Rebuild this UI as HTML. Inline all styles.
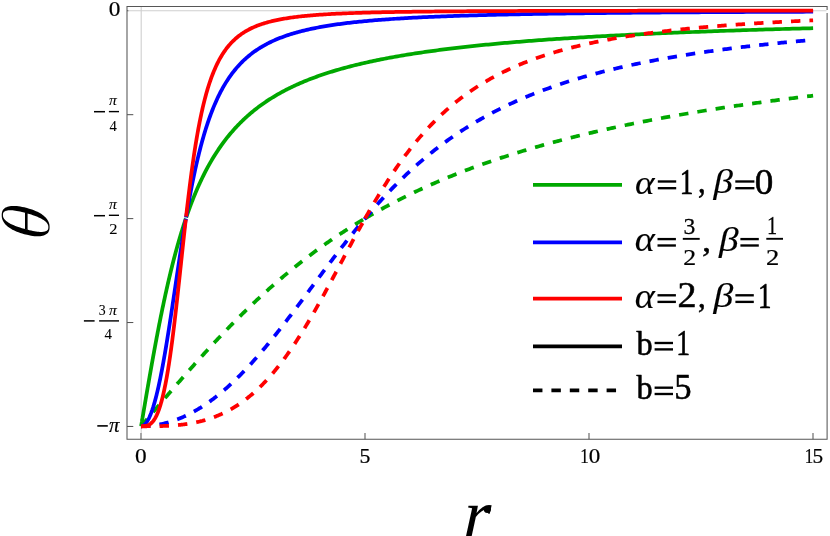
<!DOCTYPE html>
<html><head><meta charset="utf-8"><title>plot</title>
<style>html,body{margin:0;padding:0;background:#fff;}body{width:830px;height:536px;overflow:hidden;font-family:"Liberation Serif",serif;}svg{display:block;position:absolute;left:0;top:0;will-change:transform;}svg text{font-family:"Liberation Serif",serif;fill:#000;}</style>
</head><body>
<svg width="830" height="536" viewBox="0 0 830 536">
<rect width="830" height="536" fill="#fff"/>
<path d="M827.1,10.1 L827.1,6.5 L127.0,6.5 L127.0,439.3 L827.1,439.3 L827.1,13.0" fill="none" stroke="#565656" stroke-width="1.05" stroke-linejoin="miter" stroke-linecap="butt"/>
<line x1="141.00" y1="439.3" x2="141.00" y2="432.90000000000003" stroke="#565656" stroke-width="1.05"/>
<line x1="365.00" y1="439.3" x2="365.00" y2="432.90000000000003" stroke="#565656" stroke-width="1.05"/>
<line x1="589.00" y1="439.3" x2="589.00" y2="432.90000000000003" stroke="#565656" stroke-width="1.05"/>
<line x1="813.00" y1="439.3" x2="813.00" y2="432.90000000000003" stroke="#565656" stroke-width="1.05"/>
<line x1="127.0" y1="114.67" x2="133.3" y2="114.67" stroke="#565656" stroke-width="1.05"/>
<line x1="127.0" y1="218.60" x2="133.3" y2="218.60" stroke="#565656" stroke-width="1.05"/>
<line x1="127.0" y1="322.52" x2="133.3" y2="322.52" stroke="#565656" stroke-width="1.05"/>
<line x1="127.0" y1="426.45" x2="133.3" y2="426.45" stroke="#565656" stroke-width="1.05"/>
<line x1="127.0" y1="10.700000000000001" x2="128.6" y2="10.700000000000001" stroke="#565656" stroke-width="1.05"/>
<line x1="141.2" y1="7.1" x2="141.2" y2="432.90000000000003" stroke="#cfcfcf" stroke-width="1.1"/>
<line x1="128.6" y1="10.700000000000001" x2="826.5" y2="10.700000000000001" stroke="#cfcfcf" stroke-width="1.1"/>
<path d="M141.10,426.25 L141.11,426.19 L141.13,426.07 L141.16,425.92 L141.19,425.75 L141.22,425.55 L141.26,425.32 L141.30,425.08 L141.34,424.82 L141.39,424.55 L141.44,424.26 L141.49,423.95 L141.54,423.63 L141.60,423.30 L141.66,422.95 L141.72,422.59 L141.78,422.22 L141.85,421.84 L141.91,421.44 L141.98,421.03 L142.05,420.62 L142.13,420.19 L142.20,419.75 L142.28,419.30 L142.35,418.85 L142.43,418.38 L142.51,417.90 L142.60,417.42 L142.68,416.92 L142.76,416.42 L142.85,415.91 L142.94,415.39 L143.03,414.86 L143.12,414.32 L143.21,413.77 L143.31,413.22 L143.40,412.66 L143.50,412.09 L143.60,411.51 L143.70,410.93 L143.80,410.34 L143.90,409.74 L144.00,409.13 L144.11,408.52 L144.21,407.90 L144.32,407.27 L144.43,406.64 L144.54,406.00 L144.65,405.35 L144.76,404.70 L144.87,404.04 L144.98,403.37 L145.10,402.70 L145.21,402.02 L145.33,401.33 L145.45,400.64 L145.57,399.95 L145.69,399.24 L145.81,398.53 L145.93,397.82 L146.05,397.10 L146.18,396.37 L146.30,395.64 L146.43,394.91 L146.56,394.16 L146.69,393.42 L146.82,392.66 L146.95,391.91 L147.08,391.14 L147.21,390.38 L147.34,389.60 L147.48,388.82 L147.61,388.04 L147.75,387.25 L147.89,386.46 L148.02,385.67 L148.16,384.86 L148.30,384.06 L148.44,383.25 L148.59,382.43 L148.73,381.61 L148.87,380.79 L149.02,379.96 L149.16,379.13 L149.31,378.30 L149.45,377.46 L149.60,376.61 L149.75,375.77 L149.90,374.91 L150.05,374.06 L150.20,373.20 L150.35,372.34 L150.51,371.47 L150.66,370.60 L150.82,369.73 L150.97,368.85 L151.13,367.97 L151.29,367.09 L151.44,366.20 L151.60,365.31 L151.76,364.42 L151.92,363.53 L152.08,362.63 L152.24,361.73 L152.41,360.82 L152.57,359.92 L152.73,359.01 L152.90,358.09 L153.07,357.18 L153.23,356.26 L153.40,355.34 L153.57,354.42 L153.74,353.49 L153.91,352.57 L154.08,351.64 L154.25,350.70 L154.42,349.77 L154.59,348.83 L154.77,347.90 L154.94,346.96 L155.11,346.02 L155.29,345.07 L155.47,344.13 L155.64,343.18 L155.82,342.23 L156.00,341.28 L156.18,340.33 L156.36,339.38 L156.54,338.42 L156.72,337.47 L156.90,336.51 L157.09,335.55 L157.27,334.59 L157.45,333.63 L157.64,332.67 L157.82,331.70 L158.01,330.74 L158.20,329.78 L158.38,328.81 L158.57,327.84 L158.76,326.88 L158.95,325.91 L159.14,324.94 L159.33,323.97 L159.52,323.00 L159.71,322.03 L159.91,321.06 L160.10,320.09 L160.30,319.12 L160.49,318.15 L160.69,317.18 L160.88,316.21 L161.08,315.24 L161.28,314.26 L161.47,313.29 L161.67,312.32 L161.87,311.35 L162.07,310.38 L162.27,309.41 L162.47,308.44 L162.68,307.47 L162.88,306.50 L163.08,305.53 L163.29,304.56 L163.49,303.59 L163.70,302.62 L163.90,301.66 L164.11,300.69 L164.32,299.73 L164.52,298.76 L164.73,297.80 L164.94,296.83 L165.15,295.87 L165.36,294.91 L165.57,293.95 L165.78,292.99 L165.99,292.03 L166.21,291.07 L166.42,290.12 L166.63,289.16 L166.85,288.21 L167.06,287.26 L167.28,286.31 L167.49,285.36 L167.71,284.41 L167.93,283.46 L168.14,282.52 L168.36,281.58 L168.58,280.63 L168.80,279.69 L169.02,278.75 L169.24,277.82 L169.46,276.88 L169.69,275.95 L169.91,275.02 L170.13,274.09 L170.35,273.16 L170.58,272.23 L170.80,271.31 L171.03,270.39 L171.25,269.47 L171.48,268.55 L171.71,267.63 L171.94,266.72 L172.16,265.80 L172.39,264.89 L172.62,263.99 L172.85,263.08 L173.08,262.18 L173.31,261.28 L173.54,260.38 L173.78,259.48 L174.01,258.59 L174.24,257.69 L174.48,256.80 L174.71,255.92 L174.94,255.03 L175.18,254.15 L175.42,253.27 L175.65,252.39 L175.89,251.51 L176.13,250.64 L176.36,249.77 L176.60,248.90 L176.84,248.04 L177.08,247.18 L177.32,246.32 L177.56,245.46 L177.80,244.60 L178.05,243.75 L178.29,242.90 L178.53,242.05 L178.77,241.21 L179.02,240.37 L179.26,239.53 L179.51,238.69 L179.75,237.86 L180.00,237.03 L180.24,236.20 L180.49,235.38 L180.74,234.55 L180.99,233.74 L181.24,232.92 L181.48,232.10 L181.73,231.29 L181.98,230.49 L182.23,229.68 L182.49,228.88 L182.74,228.08 L182.99,227.28 L183.24,226.49 L183.50,225.70 L183.75,224.91 L184.00,224.12 L184.26,223.34 L184.51,222.56 L184.77,221.79 L185.02,221.01 L185.28,220.24 L185.54,219.47 L185.80,218.71" stroke="#00a800" stroke-width="3.75" fill="none" stroke-linejoin="round"/>
<path d="M186.31,217.20 L186.31,217.19 L186.31,217.18 L186.32,217.16 L186.33,217.12 L186.35,217.08 L186.37,217.02 L186.39,216.95 L186.42,216.86 L186.46,216.76 L186.50,216.65 L186.54,216.52 L186.59,216.38 L186.64,216.22 L186.70,216.05 L186.77,215.87 L186.84,215.66 L186.91,215.45 L186.99,215.21 L187.08,214.97 L187.17,214.70 L187.27,214.42 L187.37,214.13 L187.48,213.82 L187.59,213.49 L187.72,213.15 L187.84,212.79 L187.97,212.41 L188.11,212.02 L188.26,211.62 L188.41,211.19 L188.57,210.75 L188.73,210.30 L188.90,209.83 L189.07,209.35 L189.26,208.85 L189.45,208.33 L189.64,207.80 L189.84,207.26 L190.05,206.69 L190.26,206.12 L190.48,205.53 L190.71,204.92 L190.95,204.30 L191.19,203.67 L191.43,203.02 L191.69,202.36 L191.95,201.69 L192.22,201.00 L192.49,200.30 L192.77,199.58 L193.06,198.86 L193.35,198.12 L193.65,197.37 L193.96,196.60 L194.28,195.83 L194.60,195.04 L194.93,194.24 L195.27,193.43 L195.61,192.61 L195.96,191.78 L196.32,190.94 L196.68,190.09 L197.05,189.23 L197.43,188.36 L197.82,187.48 L198.21,186.59 L198.61,185.69 L199.02,184.78 L199.43,183.87 L199.85,182.95 L200.28,182.02 L200.72,181.09 L201.16,180.15 L201.62,179.20 L202.08,178.24 L202.54,177.28 L203.01,176.32 L203.50,175.34 L203.98,174.37 L204.48,173.39 L204.98,172.40 L205.49,171.41 L206.01,170.42 L206.54,169.42 L207.07,168.42 L207.61,167.42 L208.16,166.41 L208.72,165.40 L209.28,164.39 L209.86,163.38 L210.43,162.36 L211.02,161.35 L211.62,160.33 L212.22,159.32 L212.83,158.30 L213.45,157.28 L214.07,156.26 L214.71,155.24 L215.35,154.22 L216.00,153.21 L216.65,152.19 L217.32,151.18 L217.99,150.16 L218.67,149.15 L219.36,148.14 L220.06,147.13 L220.76,146.12 L221.47,145.12 L222.20,144.12 L222.92,143.12 L223.66,142.12 L224.40,141.13 L225.16,140.14 L225.92,139.15 L226.69,138.17 L227.46,137.19 L228.25,136.21 L229.04,135.24 L229.84,134.28 L230.65,133.31 L231.47,132.35 L232.29,131.40 L233.12,130.45 L233.97,129.50 L234.81,128.56 L235.67,127.63 L236.54,126.70 L237.41,125.77 L238.30,124.85 L239.19,123.94 L240.08,123.03 L240.99,122.12 L241.91,121.22 L242.83,120.33 L243.76,119.44 L244.70,118.56 L245.65,117.68 L246.61,116.81 L247.58,115.95 L248.55,115.09 L249.53,114.24 L250.52,113.39 L251.52,112.55 L252.53,111.72 L253.54,110.89 L254.57,110.06 L255.60,109.25 L256.64,108.44 L257.69,107.63 L258.75,106.84 L259.82,106.04 L260.89,105.26 L261.98,104.48 L263.07,103.71 L264.17,102.94 L265.28,102.18 L266.40,101.42 L267.52,100.68 L268.66,99.93 L269.80,99.20 L270.96,98.47 L272.12,97.74 L273.29,97.03 L274.46,96.32 L275.65,95.61 L276.85,94.91 L278.05,94.22 L279.26,93.53 L280.49,92.85 L281.72,92.17 L282.95,91.51 L284.20,90.84 L285.46,90.18 L286.72,89.53 L288.00,88.89 L289.28,88.25 L290.57,87.61 L291.87,86.99 L293.18,86.36 L294.50,85.75 L295.83,85.14 L297.16,84.53 L298.51,83.93 L299.86,83.34 L301.22,82.75 L302.59,82.16 L303.97,81.59 L305.36,81.01 L306.76,80.45 L308.17,79.88 L309.58,79.33 L311.01,78.78 L312.44,78.23 L313.88,77.69 L315.33,77.15 L316.79,76.62 L318.26,76.10 L319.74,75.58 L321.23,75.06 L322.72,74.55 L324.23,74.04 L325.74,73.54 L327.26,73.05 L328.80,72.56 L330.34,72.07 L331.89,71.59 L333.45,71.11 L335.02,70.64 L336.59,70.17 L338.18,69.70 L339.77,69.24 L341.38,68.79 L342.99,68.34 L344.62,67.89 L346.25,67.45 L347.89,67.01 L349.54,66.58 L351.20,66.15 L352.87,65.72 L354.55,65.30 L356.23,64.88 L357.93,64.47 L359.63,64.06 L361.35,63.66 L363.07,63.25 L364.81,62.86 L366.55,62.46 L368.30,62.07 L370.06,61.69 L371.83,61.30 L373.61,60.92 L375.40,60.55 L377.19,60.18 L379.00,59.81 L380.82,59.44 L382.64,59.08 L384.48,58.72 L386.32,58.37 L388.18,58.02 L390.04,57.67 L391.91,57.33 L393.79,56.99 L395.68,56.65 L397.58,56.31 L399.49,55.98 L401.41,55.65 L403.34,55.33 L405.28,55.01 L407.23,54.69 L409.18,54.37 L411.15,54.06 L413.12,53.75 L415.11,53.44 L417.10,53.13 L419.11,52.83 L421.12,52.53 L423.14,52.24 L425.17,51.94 L427.22,51.65 L429.27,51.37 L431.33,51.08 L433.40,50.80 L435.48,50.52 L437.57,50.24 L439.67,49.97 L441.77,49.69 L443.89,49.42 L446.02,49.16 L448.15,48.89 L450.30,48.63 L452.46,48.37 L454.62,48.11 L456.80,47.86 L458.98,47.60 L461.18,47.35 L463.38,47.10 L465.59,46.86 L467.82,46.61 L470.05,46.37 L472.29,46.13 L474.54,45.89 L476.80,45.66 L479.08,45.43 L481.36,45.20 L483.65,44.97 L485.95,44.74 L488.26,44.51 L490.58,44.29 L492.90,44.07 L495.24,43.85 L497.59,43.63 L499.95,43.42 L502.32,43.21 L504.70,42.99 L507.08,42.78 L509.48,42.58 L511.89,42.37 L514.30,42.17 L516.73,41.96 L519.17,41.76 L521.61,41.57 L524.07,41.37 L526.53,41.17 L529.01,40.98 L531.49,40.79 L533.99,40.60 L536.49,40.41 L539.01,40.22 L541.53,40.04 L544.06,39.85 L546.61,39.67 L549.16,39.49 L551.73,39.31 L554.30,39.13 L556.88,38.96 L559.48,38.78 L562.08,38.61 L564.69,38.44 L567.31,38.27 L569.95,38.10 L572.59,37.93 L575.24,37.76 L577.90,37.60 L580.58,37.43 L583.26,37.27 L585.95,37.11 L588.65,36.95 L591.36,36.79 L594.09,36.64 L596.82,36.48 L599.56,36.33 L602.31,36.18 L605.07,36.02 L607.84,35.87 L610.62,35.72 L613.42,35.58 L616.22,35.43 L619.03,35.28 L621.85,35.14 L624.68,35.00 L627.52,34.86 L630.38,34.71 L633.24,34.57 L636.11,34.44 L638.99,34.30 L641.88,34.16 L644.78,34.03 L647.70,33.89 L650.62,33.76 L653.55,33.63 L656.49,33.50 L659.44,33.37 L662.41,33.24 L665.38,33.11 L668.36,32.98 L671.35,32.86 L674.36,32.73 L677.37,32.61 L680.39,32.48 L683.42,32.36 L686.47,32.24 L689.52,32.12 L692.58,32.00 L695.66,31.88 L698.74,31.77 L701.83,31.65 L704.94,31.53 L708.05,31.42 L711.18,31.30 L714.31,31.19 L717.45,31.08 L720.61,30.97 L723.77,30.86 L726.95,30.75 L730.13,30.64 L733.33,30.53 L736.54,30.42 L739.75,30.32 L742.98,30.21 L746.21,30.11 L749.46,30.00 L752.72,29.90 L755.99,29.80 L759.26,29.70 L762.55,29.60 L765.85,29.49 L769.16,29.40 L772.47,29.30 L775.80,29.20 L779.14,29.10 L782.49,29.00 L785.85,28.91 L789.22,28.81 L792.60,28.72 L795.99,28.63 L799.39,28.53 L802.80,28.44 L806.23,28.35 L809.66,28.26 L813.10,28.17" stroke="#00a800" stroke-width="3.75" fill="none" stroke-linejoin="round"/>
<path d="M141.10,426.25 L141.18,426.16 L141.30,426.01 L141.46,425.83 L141.63,425.62 L141.83,425.39 L142.04,425.14 L142.26,424.88 L142.50,424.59 L142.75,424.30 L143.02,423.99 L143.29,423.66 L143.57,423.33 L143.87,422.98 L144.17,422.63 L144.48,422.26 L144.80,421.88 L145.13,421.49 L145.46,421.10 L145.80,420.69 L146.15,420.28 L146.51,419.86 L146.88,419.43 L147.25,418.99 L147.62,418.54 L148.01,418.09 L148.40,417.63 L148.79,417.16 L149.20,416.69 L149.60,416.21 L150.02,415.72 L150.44,415.23 L150.86,414.73 L151.29,414.22 L151.73,413.71 L152.17,413.19 L152.61,412.66 L153.06,412.13 L153.52,411.60 L153.98,411.05 L154.44,410.51 L154.91,409.96 L155.38,409.40 L155.86,408.84 L156.34,408.27 L156.83,407.69 L157.32,407.12 L157.82,406.53 L158.32,405.95 L158.82,405.35 L159.33,404.76 L159.84,404.16 L160.36,403.55 L160.88,402.94 L161.41,402.32 L161.93,401.71 L162.47,401.08 L163.00,400.45 L163.54,399.82 L164.09,399.19 L164.63,398.55 L165.18,397.90 L165.74,397.26 L166.30,396.61 L166.86,395.95 L167.42,395.29 L167.99,394.63 L168.57,393.96 L169.14,393.29 L169.72,392.62 L170.30,391.94 L170.89,391.26 L171.48,390.58 L172.07,389.89 L172.66,389.20 L173.26,388.51 L173.87,387.81 L174.47,387.11 L175.08,386.41 L175.69,385.70 L176.30,384.99 L176.92,384.28 L177.54,383.57 L178.17,382.85 L178.79,382.13 L179.42,381.41 L180.06,380.68 L180.69,379.95 L181.33,379.22 L181.97,378.49 L182.62,377.75 L183.26,377.01 L183.91,376.27 L184.57,375.53 L185.22,374.78 L185.88,374.03 L186.54,373.28 L187.21,372.53 L187.87,371.77 L188.54,371.02 L189.21,370.26 L189.89,369.49 L190.57,368.73 L191.25,367.96 L191.93,367.20 L192.62,366.43 L193.30,365.66 L194.00,364.88 L194.69,364.11 L195.38,363.33 L196.08,362.55 L196.78,361.77 L197.49,360.99 L198.19,360.20 L198.90,359.42 L199.61,358.63 L200.33,357.84 L201.04,357.05 L201.76,356.26 L202.48,355.47 L203.21,354.67 L203.93,353.88 L204.66,353.08 L205.39,352.28 L206.12,351.48 L206.86,350.68 L207.60,349.88 L208.34,349.08 L209.08,348.27 L209.82,347.47 L210.57,346.66 L211.32,345.86 L212.07,345.05 L212.83,344.24 L213.58,343.43 L214.34,342.62 L215.10,341.81 L215.86,341.00 L216.63,340.19 L217.40,339.37 L218.17,338.56 L218.94,337.74 L219.71,336.93 L220.49,336.11 L221.27,335.30 L222.05,334.48 L222.83,333.66 L223.61,332.85 L224.40,332.03 L225.19,331.21 L225.98,330.39 L226.77,329.57 L227.57,328.76 L228.37,327.94 L229.17,327.12 L229.97,326.30 L230.77,325.48 L231.58,324.66 L232.38,323.84 L233.19,323.02 L234.01,322.20 L234.82,321.38 L235.64,320.56 L236.45,319.74 L237.27,318.92 L238.10,318.11 L238.92,317.29 L239.75,316.47 L240.57,315.65 L241.40,314.83 L242.24,314.01 L243.07,313.20 L243.91,312.38 L244.74,311.56 L245.58,310.75 L246.43,309.93 L247.27,309.12 L248.11,308.30 L248.96,307.49 L249.81,306.68 L250.66,305.86 L251.52,305.05 L252.37,304.24 L253.23,303.43 L254.09,302.62 L254.95,301.81 L255.81,301.00 L256.67,300.19 L257.54,299.39 L258.41,298.58 L259.28,297.78 L260.15,296.97 L261.02,296.17 L261.90,295.37 L262.77,294.56 L263.65,293.76 L264.53,292.96 L265.42,292.16 L266.30,291.37 L267.19,290.57 L268.08,289.78 L268.97,288.98 L269.86,288.19 L270.75,287.40 L271.65,286.61 L272.54,285.82 L273.44,285.03 L274.34,284.24 L275.24,283.46 L276.15,282.67 L277.05,281.89 L277.96,281.11 L278.87,280.33 L279.78,279.55 L280.69,278.77 L281.61,277.99 L282.52,277.22 L283.44,276.44 L284.36,275.67 L285.28,274.90 L286.20,274.13 L287.13,273.36 L288.05,272.60 L288.98,271.83 L289.91,271.07 L290.84,270.31 L291.77,269.55 L292.71,268.79 L293.64,268.03 L294.58,267.28 L295.52,266.52 L296.46,265.77 L297.40,265.02 L298.34,264.27 L299.29,263.53 L300.24,262.78 L301.19,262.04 L302.14,261.30 L303.09,260.56 L304.04,259.82 L305.00,259.08 L305.95,258.35 L306.91,257.61 L307.87,256.88 L308.84,256.15 L309.80,255.42 L310.76,254.70 L311.73,253.98 L312.70,253.25 L313.67,252.53 L314.64,251.81 L315.61,251.10 L316.58,250.38 L317.56,249.67 L318.54,248.96 L319.52,248.25 L320.50,247.54 L321.48,246.84 L322.46,246.13 L323.45,245.43 L324.43,244.73 L325.42,244.04 L326.41,243.34 L327.40,242.65 L328.39,241.96 L329.39,241.27 L330.38,240.58 L331.38,239.89 L332.38,239.21 L333.38,238.53 L334.38,237.85 L335.38,237.17 L336.39,236.49 L337.39,235.82 L338.40,235.15 L339.41,234.48 L340.42,233.81 L341.43,233.15 L342.45,232.48 L343.46,231.82 L344.48,231.16 L345.49,230.50 L346.51,229.85 L347.53,229.19 L348.56,228.54 L349.58,227.89 L350.60,227.25 L351.63,226.60 L352.66,225.96 L353.69,225.32 L354.72,224.68 L355.75,224.04 L356.78,223.41 L357.82,222.77 L358.85,222.14 L359.89,221.51 L360.93,220.89 L361.97,220.26 L363.01,219.64 L364.06,219.02 L365.10,218.40" stroke="#00a800" stroke-width="3.75" fill="none" stroke-dasharray="9.4 9.07" stroke-linejoin="round"/>
<path d="M365.10,218.40 L366.59,217.52 L368.09,216.65 L369.58,215.78 L371.07,214.92 L372.57,214.06 L374.06,213.21 L375.55,212.37 L377.05,211.53 L378.54,210.69 L380.03,209.87 L381.53,209.04 L383.02,208.23 L384.51,207.41 L386.01,206.61 L387.50,205.81 L388.99,205.01 L390.49,204.22 L391.98,203.44 L393.47,202.66 L394.97,201.88 L396.46,201.11 L397.95,200.35 L399.45,199.59 L400.94,198.83 L402.43,198.08 L403.93,197.34 L405.42,196.60 L406.91,195.86 L408.41,195.13 L409.90,194.41 L411.39,193.69 L412.89,192.97 L414.38,192.26 L415.87,191.55 L417.37,190.85 L418.86,190.15 L420.35,189.46 L421.85,188.77 L423.34,188.09 L424.83,187.41 L426.33,186.73 L427.82,186.06 L429.31,185.40 L430.81,184.73 L432.30,184.08 L433.79,183.42 L435.29,182.77 L436.78,182.13 L438.27,181.49 L439.77,180.85 L441.26,180.21 L442.75,179.59 L444.25,178.96 L445.74,178.34 L447.23,177.72 L448.73,177.11 L450.22,176.50 L451.71,175.89 L453.21,175.29 L454.70,174.69 L456.19,174.10 L457.69,173.51 L459.18,172.92 L460.67,172.34 L462.17,171.76 L463.66,171.18 L465.15,170.61 L466.65,170.04 L468.14,169.48 L469.63,168.92 L471.13,168.36 L472.62,167.80 L474.11,167.25 L475.61,166.71 L477.10,166.16 L478.59,165.62 L480.09,165.08 L481.58,164.55 L483.07,164.02 L484.57,163.49 L486.06,162.96 L487.55,162.44 L489.05,161.92 L490.54,161.41 L492.03,160.89 L493.53,160.39 L495.02,159.88 L496.51,159.38 L498.01,158.88 L499.50,158.38 L500.99,157.89 L502.49,157.39 L503.98,156.91 L505.47,156.42 L506.97,155.94 L508.46,155.46 L509.95,154.98 L511.45,154.51 L512.94,154.04 L514.43,153.57 L515.93,153.10 L517.42,152.64 L518.91,152.18 L520.41,151.72 L521.90,151.27 L523.39,150.81 L524.89,150.37 L526.38,149.92 L527.87,149.47 L529.37,149.03 L530.86,148.59 L532.35,148.16 L533.85,147.72 L535.34,147.29 L536.83,146.86 L538.33,146.43 L539.82,146.01 L541.31,145.59 L542.81,145.17 L544.30,144.75 L545.79,144.34 L547.29,143.92 L548.78,143.51 L550.27,143.10 L551.77,142.70 L553.26,142.30 L554.75,141.89 L556.25,141.50 L557.74,141.10 L559.23,140.70 L560.73,140.31 L562.22,139.92 L563.71,139.53 L565.21,139.15 L566.70,138.76 L568.19,138.38 L569.69,138.00 L571.18,137.62 L572.67,137.25 L574.17,136.88 L575.66,136.50 L577.15,136.14 L578.65,135.77 L580.14,135.40 L581.63,135.04 L583.13,134.68 L584.62,134.32 L586.11,133.96 L587.61,133.60 L589.10,133.25 L590.59,132.90 L592.09,132.55 L593.58,132.20 L595.07,131.85 L596.57,131.51 L598.06,131.17 L599.55,130.83 L601.05,130.49 L602.54,130.15 L604.03,129.81 L605.53,129.48 L607.02,129.15 L608.51,128.82 L610.01,128.49 L611.50,128.16 L612.99,127.84 L614.49,127.51 L615.98,127.19 L617.47,126.87 L618.97,126.55 L620.46,126.24 L621.95,125.92 L623.45,125.61 L624.94,125.29 L626.43,124.98 L627.93,124.67 L629.42,124.37 L630.91,124.06 L632.41,123.76 L633.90,123.45 L635.39,123.15 L636.89,122.85 L638.38,122.55 L639.87,122.26 L641.37,121.96 L642.86,121.67 L644.35,121.38 L645.85,121.08 L647.34,120.80 L648.83,120.51 L650.33,120.22 L651.82,119.93 L653.31,119.65 L654.81,119.37 L656.30,119.09 L657.79,118.81 L659.29,118.53 L660.78,118.25 L662.27,117.98 L663.77,117.70 L665.26,117.43 L666.75,117.16 L668.25,116.89 L669.74,116.62 L671.23,116.35 L672.73,116.08 L674.22,115.82 L675.71,115.55 L677.21,115.29 L678.70,115.03 L680.19,114.77 L681.69,114.51 L683.18,114.25 L684.67,113.99 L686.17,113.74 L687.66,113.48 L689.15,113.23 L690.65,112.98 L692.14,112.73 L693.63,112.48 L695.13,112.23 L696.62,111.98 L698.11,111.74 L699.61,111.49 L701.10,111.25 L702.59,111.01 L704.09,110.76 L705.58,110.52 L707.07,110.28 L708.57,110.05 L710.06,109.81 L711.55,109.57 L713.05,109.34 L714.54,109.10 L716.03,108.87 L717.53,108.64 L719.02,108.41 L720.51,108.18 L722.01,107.95 L723.50,107.72 L724.99,107.49 L726.49,107.27 L727.98,107.04 L729.47,106.82 L730.97,106.60 L732.46,106.37 L733.95,106.15 L735.45,105.93 L736.94,105.71 L738.43,105.50 L739.93,105.28 L741.42,105.06 L742.91,104.85 L744.41,104.63 L745.90,104.42 L747.39,104.21 L748.89,104.00 L750.38,103.79 L751.87,103.58 L753.37,103.37 L754.86,103.16 L756.35,102.95 L757.85,102.75 L759.34,102.54 L760.83,102.34 L762.33,102.13 L763.82,101.93 L765.31,101.73 L766.81,101.53 L768.30,101.33 L769.79,101.13 L771.29,100.93 L772.78,100.73 L774.27,100.54 L775.77,100.34 L777.26,100.15 L778.75,99.95 L780.25,99.76 L781.74,99.57 L783.23,99.37 L784.73,99.18 L786.22,98.99 L787.71,98.80 L789.21,98.62 L790.70,98.43 L792.19,98.24 L793.69,98.05 L795.18,97.87 L796.67,97.68 L798.17,97.50 L799.66,97.32 L801.15,97.13 L802.65,96.95 L804.14,96.77 L805.63,96.59 L807.13,96.41 L808.62,96.23 L810.11,96.05 L811.61,95.88 L813.10,95.70" stroke="#00a800" stroke-width="3.75" fill="none" stroke-dasharray="9.4 9.07" stroke-linejoin="round"/>
<path d="M141.10,426.25 L141.11,426.25 L141.13,426.25 L141.16,426.25 L141.19,426.25 L141.22,426.25 L141.26,426.25 L141.30,426.24 L141.34,426.24 L141.39,426.24 L141.44,426.23 L141.49,426.23 L141.54,426.22 L141.60,426.22 L141.66,426.21 L141.72,426.20 L141.78,426.19 L141.85,426.18 L141.92,426.16 L141.98,426.15 L142.05,426.13 L142.13,426.11 L142.20,426.09 L142.28,426.07 L142.35,426.04 L142.43,426.02 L142.51,425.99 L142.60,425.95 L142.68,425.92 L142.77,425.88 L142.85,425.84 L142.94,425.80 L143.03,425.76 L143.12,425.71 L143.22,425.66 L143.31,425.61 L143.41,425.55 L143.50,425.49 L143.60,425.43 L143.70,425.36 L143.80,425.29 L143.90,425.21 L144.00,425.14 L144.11,425.06 L144.21,424.97 L144.32,424.88 L144.43,424.79 L144.54,424.69 L144.65,424.59 L144.76,424.48 L144.87,424.37 L144.99,424.26 L145.10,424.14 L145.22,424.01 L145.33,423.89 L145.45,423.75 L145.57,423.61 L145.69,423.47 L145.81,423.32 L145.94,423.17 L146.06,423.01 L146.18,422.84 L146.31,422.67 L146.44,422.49 L146.56,422.31 L146.69,422.13 L146.82,421.93 L146.95,421.73 L147.08,421.53 L147.22,421.32 L147.35,421.10 L147.48,420.88 L147.62,420.65 L147.76,420.41 L147.89,420.17 L148.03,419.92 L148.17,419.66 L148.31,419.40 L148.45,419.12 L148.59,418.85 L148.74,418.56 L148.88,418.27 L149.02,417.97 L149.17,417.67 L149.32,417.35 L149.46,417.03 L149.61,416.70 L149.76,416.36 L149.91,416.02 L150.06,415.67 L150.21,415.31 L150.36,414.94 L150.52,414.56 L150.67,414.18 L150.83,413.79 L150.98,413.38 L151.14,412.97 L151.30,412.56 L151.45,412.13 L151.61,411.69 L151.77,411.25 L151.93,410.79 L152.09,410.33 L152.26,409.86 L152.42,409.38 L152.58,408.89 L152.75,408.39 L152.91,407.88 L153.08,407.36 L153.25,406.84 L153.41,406.30 L153.58,405.75 L153.75,405.19 L153.92,404.63 L154.09,404.05 L154.26,403.47 L154.43,402.87 L154.61,402.26 L154.78,401.65 L154.95,401.02 L155.13,400.38 L155.30,399.73 L155.48,399.07 L155.66,398.41 L155.84,397.73 L156.02,397.04 L156.19,396.34 L156.37,395.62 L156.56,394.90 L156.74,394.17 L156.92,393.42 L157.10,392.67 L157.29,391.90 L157.47,391.12 L157.65,390.34 L157.84,389.54 L158.03,388.73 L158.21,387.90 L158.40,387.07 L158.59,386.22 L158.78,385.37 L158.97,384.50 L159.16,383.62 L159.35,382.73 L159.54,381.83 L159.73,380.91 L159.93,379.99 L160.12,379.05 L160.32,378.10 L160.51,377.14 L160.71,376.17 L160.90,375.19 L161.10,374.19 L161.30,373.18 L161.50,372.16 L161.69,371.13 L161.89,370.09 L162.09,369.04 L162.30,367.97 L162.50,366.90 L162.70,365.81 L162.90,364.71 L163.11,363.60 L163.31,362.47 L163.51,361.34 L163.72,360.19 L163.93,359.03 L164.13,357.87 L164.34,356.69 L164.55,355.49 L164.76,354.29 L164.96,353.08 L165.17,351.85 L165.38,350.62 L165.60,349.37 L165.81,348.11 L166.02,346.84 L166.23,345.57 L166.44,344.28 L166.66,342.98 L166.87,341.67 L167.09,340.34 L167.30,339.01 L167.52,337.67 L167.74,336.32 L167.95,334.96 L168.17,333.59 L168.39,332.21 L168.61,330.82 L168.83,329.42 L169.05,328.01 L169.27,326.60 L169.49,325.17 L169.72,323.74 L169.94,322.29 L170.16,320.84 L170.39,319.38 L170.61,317.91 L170.83,316.44 L171.06,314.96 L171.29,313.47 L171.51,311.97 L171.74,310.46 L171.97,308.95 L172.20,307.43 L172.43,305.91 L172.65,304.38 L172.88,302.84 L173.12,301.30 L173.35,299.75 L173.58,298.19 L173.81,296.63 L174.04,295.07 L174.28,293.50 L174.51,291.93 L174.74,290.35 L174.98,288.77 L175.22,287.18 L175.45,285.59 L175.69,284.00 L175.93,282.40 L176.16,280.80 L176.40,279.20 L176.64,277.60 L176.88,275.99 L177.12,274.38 L177.36,272.77 L177.60,271.16 L177.84,269.55 L178.08,267.94 L178.33,266.32 L178.57,264.71 L178.81,263.10 L179.06,261.48 L179.30,259.87 L179.55,258.25 L179.79,256.64 L180.04,255.03 L180.29,253.42 L180.53,251.81 L180.78,250.20 L181.03,248.60 L181.28,246.99 L181.53,245.39 L181.78,243.79 L182.03,242.20 L182.28,240.61 L182.53,239.02 L182.78,237.43 L183.03,235.85 L183.29,234.27 L183.54,232.70 L183.79,231.13 L184.05,229.56 L184.30,228.00 L184.56,226.44 L184.81,224.89 L185.07,223.34 L185.33,221.80 L185.58,220.27 L185.84,218.74" stroke="#0000ff" stroke-width="3.75" fill="none" stroke-linejoin="round"/>
<path d="M186.11,217.16 L186.11,217.16 L186.12,217.13 L186.12,217.09 L186.13,217.02 L186.15,216.92 L186.17,216.81 L186.20,216.66 L186.22,216.49 L186.26,216.29 L186.30,216.06 L186.34,215.81 L186.39,215.52 L186.44,215.21 L186.50,214.86 L186.57,214.49 L186.64,214.08 L186.71,213.65 L186.79,213.18 L186.88,212.68 L186.97,212.15 L187.07,211.59 L187.17,211.00 L187.28,210.37 L187.40,209.72 L187.52,209.03 L187.64,208.31 L187.78,207.56 L187.91,206.77 L188.06,205.96 L188.21,205.11 L188.37,204.24 L188.53,203.33 L188.70,202.39 L188.88,201.42 L189.06,200.42 L189.25,199.40 L189.44,198.34 L189.64,197.25 L189.85,196.14 L190.07,194.99 L190.29,193.82 L190.51,192.62 L190.75,191.40 L190.99,190.15 L191.24,188.87 L191.49,187.57 L191.75,186.24 L192.02,184.89 L192.29,183.51 L192.57,182.12 L192.86,180.70 L193.16,179.26 L193.46,177.80 L193.77,176.32 L194.08,174.82 L194.40,173.31 L194.73,171.77 L195.07,170.22 L195.41,168.66 L195.76,167.08 L196.12,165.49 L196.48,163.88 L196.86,162.26 L197.24,160.64 L197.62,159.00 L198.01,157.35 L198.42,155.69 L198.82,154.03 L199.24,152.36 L199.66,150.68 L200.09,149.00 L200.53,147.32 L200.97,145.63 L201.42,143.94 L201.88,142.25 L202.35,140.56 L202.82,138.88 L203.30,137.19 L203.79,135.50 L204.29,133.82 L204.79,132.14 L205.30,130.47 L205.82,128.80 L206.35,127.14 L206.88,125.48 L207.42,123.84 L207.97,122.20 L208.53,120.57 L209.09,118.95 L209.66,117.34 L210.24,115.74 L210.83,114.15 L211.43,112.57 L212.03,111.01 L212.64,109.46 L213.26,107.92 L213.88,106.39 L214.52,104.88 L215.16,103.39 L215.81,101.91 L216.47,100.44 L217.13,98.99 L217.80,97.55 L218.48,96.13 L219.17,94.73 L219.87,93.34 L220.57,91.97 L221.29,90.62 L222.01,89.28 L222.74,87.96 L223.47,86.66 L224.22,85.37 L224.97,84.11 L225.73,82.85 L226.50,81.62 L227.28,80.40 L228.06,79.21 L228.85,78.02 L229.65,76.86 L230.46,75.71 L231.28,74.58 L232.11,73.47 L232.94,72.37 L233.78,71.30 L234.63,70.23 L235.49,69.19 L236.36,68.16 L237.23,67.15 L238.11,66.15 L239.00,65.17 L239.90,64.21 L240.81,63.27 L241.73,62.33 L242.65,61.42 L243.58,60.52 L244.52,59.64 L245.47,58.77 L246.43,57.91 L247.40,57.07 L248.37,56.25 L249.35,55.44 L250.34,54.64 L251.34,53.86 L252.35,53.09 L253.37,52.34 L254.39,51.60 L255.42,50.87 L256.47,50.16 L257.52,49.46 L258.57,48.77 L259.64,48.09 L260.72,47.43 L261.80,46.78 L262.89,46.14 L264.00,45.51 L265.11,44.90 L266.22,44.29 L267.35,43.70 L268.49,43.12 L269.63,42.55 L270.78,41.98 L271.94,41.43 L273.11,40.89 L274.29,40.36 L275.48,39.84 L276.68,39.33 L277.88,38.83 L279.09,38.34 L280.32,37.86 L281.55,37.38 L282.79,36.92 L284.03,36.47 L285.29,36.02 L286.56,35.58 L287.83,35.15 L289.11,34.73 L290.41,34.31 L291.71,33.91 L293.02,33.51 L294.33,33.12 L295.66,32.73 L297.00,32.35 L298.34,31.98 L299.70,31.62 L301.06,31.27 L302.43,30.92 L303.81,30.57 L305.20,30.24 L306.60,29.91 L308.00,29.58 L309.42,29.27 L310.85,28.95 L312.28,28.65 L313.72,28.35 L315.17,28.05 L316.63,27.76 L318.10,27.48 L319.58,27.20 L321.07,26.93 L322.57,26.66 L324.07,26.40 L325.59,26.14 L327.11,25.88 L328.64,25.64 L330.18,25.39 L331.73,25.15 L333.29,24.92 L334.86,24.68 L336.44,24.46 L338.03,24.23 L339.62,24.02 L341.23,23.80 L342.84,23.59 L344.47,23.38 L346.10,23.18 L347.74,22.98 L349.39,22.78 L351.05,22.59 L352.72,22.40 L354.40,22.22 L356.09,22.03 L357.78,21.86 L359.49,21.68 L361.21,21.51 L362.93,21.34 L364.66,21.17 L366.41,21.01 L368.16,20.85 L369.92,20.69 L371.69,20.53 L373.47,20.38 L375.26,20.23 L377.06,20.09 L378.86,19.94 L380.68,19.80 L382.51,19.66 L384.34,19.52 L386.19,19.39 L388.04,19.26 L389.90,19.13 L391.78,19.00 L393.66,18.87 L395.55,18.75 L397.45,18.63 L399.36,18.51 L401.28,18.39 L403.21,18.28 L405.15,18.17 L407.10,18.05 L409.05,17.95 L411.02,17.84 L413.00,17.73 L414.98,17.63 L416.98,17.53 L418.98,17.43 L421.00,17.33 L423.02,17.23 L425.05,17.14 L427.09,17.04 L429.15,16.95 L431.21,16.86 L433.28,16.77 L435.36,16.68 L437.45,16.60 L439.55,16.51 L441.66,16.43 L443.77,16.35 L445.90,16.27 L448.04,16.19 L450.19,16.11 L452.34,16.03 L454.51,15.96 L456.68,15.88 L458.87,15.81 L461.06,15.74 L463.27,15.67 L465.48,15.60 L467.71,15.53 L469.94,15.46 L472.18,15.40 L474.43,15.33 L476.70,15.27 L478.97,15.20 L481.25,15.14 L483.54,15.08 L485.84,15.02 L488.15,14.96 L490.47,14.90 L492.80,14.84 L495.14,14.79 L497.49,14.73 L499.85,14.68 L502.22,14.62 L504.60,14.57 L506.99,14.52 L509.38,14.47 L511.79,14.42 L514.21,14.37 L516.64,14.32 L519.07,14.27 L521.52,14.22 L523.98,14.17 L526.44,14.13 L528.92,14.08 L531.40,14.04 L533.90,13.99 L536.40,13.95 L538.92,13.91 L541.44,13.86 L543.98,13.82 L546.52,13.78 L549.08,13.74 L551.64,13.70 L554.22,13.66 L556.80,13.62 L559.39,13.59 L562.00,13.55 L564.61,13.51 L567.24,13.47 L569.87,13.44 L572.51,13.40 L575.17,13.37 L577.83,13.33 L580.50,13.30 L583.18,13.27 L585.88,13.23 L588.58,13.20 L591.29,13.17 L594.02,13.14 L596.75,13.11 L599.49,13.08 L602.24,13.05 L605.01,13.02 L607.78,12.99 L610.56,12.96 L613.35,12.93 L616.16,12.90 L618.97,12.88 L621.79,12.85 L624.62,12.82 L627.47,12.80 L630.32,12.77 L633.18,12.74 L636.05,12.72 L638.94,12.69 L641.83,12.67 L644.73,12.64 L647.64,12.62 L650.57,12.60 L653.50,12.57 L656.44,12.55 L659.39,12.53 L662.36,12.50 L665.33,12.48 L668.31,12.46 L671.31,12.44 L674.31,12.42 L677.32,12.40 L680.35,12.38 L683.38,12.36 L686.43,12.34 L689.48,12.32 L692.54,12.30 L695.62,12.28 L698.70,12.26 L701.80,12.24 L704.90,12.22 L708.02,12.20 L711.14,12.18 L714.28,12.17 L717.42,12.15 L720.58,12.13 L723.75,12.11 L726.92,12.10 L730.11,12.08 L733.30,12.06 L736.51,12.05 L739.73,12.03 L742.96,12.02 L746.19,12.00 L749.44,11.99 L752.70,11.97 L755.97,11.95 L759.25,11.94 L762.53,11.93 L765.83,11.91 L769.14,11.90 L772.46,11.88 L775.79,11.87 L779.13,11.85 L782.48,11.84 L785.84,11.83 L789.21,11.81 L792.60,11.80 L795.99,11.79 L799.39,11.78 L802.80,11.76 L806.22,11.75 L809.66,11.74 L813.10,11.73" stroke="#0000ff" stroke-width="3.75" fill="none" stroke-linejoin="round"/>
<path d="M141.10,426.25 L141.18,426.25 L141.30,426.25 L141.46,426.25 L141.63,426.25 L141.83,426.25 L142.04,426.25 L142.26,426.24 L142.50,426.24 L142.75,426.24 L143.02,426.23 L143.29,426.22 L143.57,426.22 L143.87,426.21 L144.17,426.20 L144.48,426.19 L144.80,426.18 L145.13,426.16 L145.46,426.15 L145.80,426.13 L146.15,426.12 L146.51,426.10 L146.88,426.07 L147.25,426.05 L147.62,426.03 L148.01,426.00 L148.40,425.97 L148.79,425.94 L149.20,425.90 L149.60,425.87 L150.02,425.83 L150.44,425.79 L150.86,425.75 L151.29,425.70 L151.73,425.65 L152.17,425.60 L152.61,425.55 L153.06,425.50 L153.52,425.44 L153.98,425.38 L154.44,425.31 L154.91,425.24 L155.38,425.17 L155.86,425.10 L156.34,425.02 L156.83,424.94 L157.32,424.86 L157.82,424.78 L158.32,424.69 L158.82,424.59 L159.33,424.50 L159.84,424.40 L160.36,424.29 L160.88,424.19 L161.41,424.08 L161.93,423.96 L162.47,423.84 L163.00,423.72 L163.54,423.59 L164.09,423.46 L164.63,423.33 L165.18,423.19 L165.74,423.05 L166.30,422.90 L166.86,422.75 L167.42,422.60 L167.99,422.44 L168.57,422.27 L169.14,422.10 L169.72,421.93 L170.30,421.75 L170.89,421.57 L171.48,421.38 L172.07,421.19 L172.66,421.00 L173.26,420.79 L173.87,420.59 L174.47,420.38 L175.08,420.16 L175.69,419.94 L176.30,419.71 L176.92,419.48 L177.54,419.25 L178.17,419.01 L178.79,418.76 L179.42,418.51 L180.06,418.25 L180.69,417.99 L181.33,417.72 L181.97,417.44 L182.62,417.16 L183.26,416.88 L183.91,416.59 L184.57,416.29 L185.22,415.99 L185.88,415.68 L186.54,415.36 L187.21,415.04 L187.87,414.72 L188.54,414.39 L189.21,414.05 L189.89,413.70 L190.57,413.35 L191.25,413.00 L191.93,412.63 L192.62,412.27 L193.30,411.89 L194.00,411.51 L194.69,411.12 L195.38,410.73 L196.08,410.32 L196.78,409.92 L197.49,409.50 L198.19,409.08 L198.90,408.65 L199.61,408.22 L200.33,407.78 L201.04,407.33 L201.76,406.88 L202.48,406.41 L203.21,405.95 L203.93,405.47 L204.66,404.99 L205.39,404.50 L206.12,404.00 L206.86,403.50 L207.60,402.99 L208.34,402.47 L209.08,401.95 L209.82,401.41 L210.57,400.87 L211.32,400.33 L212.07,399.77 L212.83,399.21 L213.58,398.64 L214.34,398.07 L215.10,397.48 L215.86,396.89 L216.63,396.29 L217.40,395.68 L218.17,395.07 L218.94,394.45 L219.71,393.82 L220.49,393.18 L221.27,392.54 L222.05,391.89 L222.83,391.23 L223.61,390.56 L224.40,389.88 L225.19,389.20 L225.98,388.51 L226.77,387.81 L227.57,387.10 L228.37,386.39 L229.17,385.67 L229.97,384.94 L230.77,384.20 L231.58,383.45 L232.38,382.70 L233.19,381.94 L234.01,381.17 L234.82,380.39 L235.64,379.60 L236.45,378.81 L237.27,378.01 L238.10,377.20 L238.92,376.38 L239.75,375.55 L240.57,374.72 L241.40,373.88 L242.24,373.03 L243.07,372.17 L243.91,371.31 L244.74,370.44 L245.58,369.56 L246.43,368.67 L247.27,367.77 L248.11,366.87 L248.96,365.95 L249.81,365.03 L250.66,364.11 L251.52,363.17 L252.37,362.23 L253.23,361.28 L254.09,360.32 L254.95,359.35 L255.81,358.38 L256.67,357.40 L257.54,356.41 L258.41,355.41 L259.28,354.41 L260.15,353.40 L261.02,352.38 L261.90,351.35 L262.77,350.32 L263.65,349.28 L264.53,348.23 L265.42,347.18 L266.30,346.12 L267.19,345.05 L268.08,343.97 L268.97,342.89 L269.86,341.80 L270.75,340.70 L271.65,339.60 L272.54,338.49 L273.44,337.38 L274.34,336.25 L275.24,335.12 L276.15,333.99 L277.05,332.85 L277.96,331.70 L278.87,330.55 L279.78,329.39 L280.69,328.22 L281.61,327.05 L282.52,325.87 L283.44,324.69 L284.36,323.50 L285.28,322.31 L286.20,321.11 L287.13,319.90 L288.05,318.69 L288.98,317.48 L289.91,316.26 L290.84,315.04 L291.77,313.81 L292.71,312.57 L293.64,311.34 L294.58,310.09 L295.52,308.85 L296.46,307.60 L297.40,306.34 L298.34,305.08 L299.29,303.82 L300.24,302.55 L301.19,301.28 L302.14,300.01 L303.09,298.73 L304.04,297.45 L305.00,296.17 L305.95,294.88 L306.91,293.59 L307.87,292.30 L308.84,291.01 L309.80,289.71 L310.76,288.41 L311.73,287.11 L312.70,285.81 L313.67,284.50 L314.64,283.19 L315.61,281.89 L316.58,280.58 L317.56,279.26 L318.54,277.95 L319.52,276.64 L320.50,275.32 L321.48,274.01 L322.46,272.69 L323.45,271.37 L324.43,270.05 L325.42,268.74 L326.41,267.42 L327.40,266.10 L328.39,264.78 L329.39,263.46 L330.38,262.15 L331.38,260.83 L332.38,259.51 L333.38,258.20 L334.38,256.88 L335.38,255.57 L336.39,254.25 L337.39,252.94 L338.40,251.63 L339.41,250.32 L340.42,249.02 L341.43,247.71 L342.45,246.41 L343.46,245.10 L344.48,243.80 L345.49,242.51 L346.51,241.21 L347.53,239.92 L348.56,238.63 L349.58,237.34 L350.60,236.05 L351.63,234.77 L352.66,233.49 L353.69,232.22 L354.72,230.94 L355.75,229.67 L356.78,228.40 L357.82,227.14 L358.85,225.88 L359.89,224.62 L360.93,223.37 L361.97,222.12 L363.01,220.88 L364.06,219.64 L365.10,218.40" stroke="#0000ff" stroke-width="3.75" fill="none" stroke-dasharray="9.4 9.07" stroke-linejoin="round"/>
<path d="M365.10,218.40 L366.59,216.64 L368.09,214.90 L369.58,213.16 L371.07,211.44 L372.57,209.73 L374.06,208.03 L375.55,206.35 L377.05,204.67 L378.54,203.01 L380.03,201.37 L381.53,199.73 L383.02,198.11 L384.51,196.50 L386.01,194.91 L387.50,193.33 L388.99,191.76 L390.49,190.20 L391.98,188.66 L393.47,187.13 L394.97,185.62 L396.46,184.11 L397.95,182.63 L399.45,181.15 L400.94,179.69 L402.43,178.24 L403.93,176.80 L405.42,175.38 L406.91,173.97 L408.41,172.57 L409.90,171.18 L411.39,169.81 L412.89,168.46 L414.38,167.11 L415.87,165.78 L417.37,164.46 L418.86,163.15 L420.35,161.86 L421.85,160.58 L423.34,159.31 L424.83,158.05 L426.33,156.81 L427.82,155.57 L429.31,154.35 L430.81,153.15 L432.30,151.95 L433.79,150.77 L435.29,149.59 L436.78,148.44 L438.27,147.29 L439.77,146.15 L441.26,145.03 L442.75,143.91 L444.25,142.81 L445.74,141.72 L447.23,140.64 L448.73,139.57 L450.22,138.51 L451.71,137.46 L453.21,136.43 L454.70,135.40 L456.19,134.39 L457.69,133.38 L459.18,132.39 L460.67,131.40 L462.17,130.43 L463.66,129.47 L465.15,128.51 L466.65,127.57 L468.14,126.64 L469.63,125.71 L471.13,124.80 L472.62,123.89 L474.11,122.99 L475.61,122.11 L477.10,121.23 L478.59,120.36 L480.09,119.50 L481.58,118.65 L483.07,117.81 L484.57,116.98 L486.06,116.15 L487.55,115.34 L489.05,114.53 L490.54,113.73 L492.03,112.94 L493.53,112.15 L495.02,111.38 L496.51,110.61 L498.01,109.85 L499.50,109.10 L500.99,108.36 L502.49,107.62 L503.98,106.89 L505.47,106.17 L506.97,105.46 L508.46,104.75 L509.95,104.05 L511.45,103.36 L512.94,102.68 L514.43,102.00 L515.93,101.33 L517.42,100.66 L518.91,100.01 L520.41,99.35 L521.90,98.71 L523.39,98.07 L524.89,97.44 L526.38,96.81 L527.87,96.19 L529.37,95.58 L530.86,94.97 L532.35,94.37 L533.85,93.78 L535.34,93.19 L536.83,92.61 L538.33,92.03 L539.82,91.46 L541.31,90.89 L542.81,90.33 L544.30,89.78 L545.79,89.23 L547.29,88.68 L548.78,88.14 L550.27,87.61 L551.77,87.08 L553.26,86.56 L554.75,86.04 L556.25,85.52 L557.74,85.02 L559.23,84.51 L560.73,84.01 L562.22,83.52 L563.71,83.03 L565.21,82.55 L566.70,82.07 L568.19,81.59 L569.69,81.12 L571.18,80.65 L572.67,80.19 L574.17,79.73 L575.66,79.28 L577.15,78.83 L578.65,78.38 L580.14,77.94 L581.63,77.51 L583.13,77.07 L584.62,76.64 L586.11,76.22 L587.61,75.80 L589.10,75.38 L590.59,74.97 L592.09,74.56 L593.58,74.15 L595.07,73.75 L596.57,73.35 L598.06,72.96 L599.55,72.57 L601.05,72.18 L602.54,71.80 L604.03,71.41 L605.53,71.04 L607.02,70.66 L608.51,70.29 L610.01,69.93 L611.50,69.56 L612.99,69.20 L614.49,68.84 L615.98,68.49 L617.47,68.14 L618.97,67.79 L620.46,67.44 L621.95,67.10 L623.45,66.76 L624.94,66.43 L626.43,66.09 L627.93,65.76 L629.42,65.44 L630.91,65.11 L632.41,64.79 L633.90,64.47 L635.39,64.15 L636.89,63.84 L638.38,63.53 L639.87,63.22 L641.37,62.91 L642.86,62.61 L644.35,62.31 L645.85,62.01 L647.34,61.72 L648.83,61.42 L650.33,61.13 L651.82,60.84 L653.31,60.56 L654.81,60.27 L656.30,59.99 L657.79,59.71 L659.29,59.44 L660.78,59.16 L662.27,58.89 L663.77,58.62 L665.26,58.35 L666.75,58.09 L668.25,57.83 L669.74,57.56 L671.23,57.31 L672.73,57.05 L674.22,56.79 L675.71,56.54 L677.21,56.29 L678.70,56.04 L680.19,55.79 L681.69,55.55 L683.18,55.31 L684.67,55.07 L686.17,54.83 L687.66,54.59 L689.15,54.35 L690.65,54.12 L692.14,53.89 L693.63,53.66 L695.13,53.43 L696.62,53.21 L698.11,52.98 L699.61,52.76 L701.10,52.54 L702.59,52.32 L704.09,52.10 L705.58,51.88 L707.07,51.67 L708.57,51.46 L710.06,51.25 L711.55,51.04 L713.05,50.83 L714.54,50.62 L716.03,50.42 L717.53,50.21 L719.02,50.01 L720.51,49.81 L722.01,49.61 L723.50,49.42 L724.99,49.22 L726.49,49.03 L727.98,48.83 L729.47,48.64 L730.97,48.45 L732.46,48.26 L733.95,48.08 L735.45,47.89 L736.94,47.71 L738.43,47.52 L739.93,47.34 L741.42,47.16 L742.91,46.98 L744.41,46.80 L745.90,46.63 L747.39,46.45 L748.89,46.28 L750.38,46.10 L751.87,45.93 L753.37,45.76 L754.86,45.59 L756.35,45.43 L757.85,45.26 L759.34,45.09 L760.83,44.93 L762.33,44.77 L763.82,44.60 L765.31,44.44 L766.81,44.28 L768.30,44.12 L769.79,43.97 L771.29,43.81 L772.78,43.65 L774.27,43.50 L775.77,43.35 L777.26,43.19 L778.75,43.04 L780.25,42.89 L781.74,42.74 L783.23,42.60 L784.73,42.45 L786.22,42.30 L787.71,42.16 L789.21,42.01 L790.70,41.87 L792.19,41.73 L793.69,41.59 L795.18,41.45 L796.67,41.31 L798.17,41.17 L799.66,41.03 L801.15,40.90 L802.65,40.76 L804.14,40.62 L805.63,40.49 L807.13,40.36 L808.62,40.23 L810.11,40.09 L811.61,39.96 L813.10,39.83" stroke="#0000ff" stroke-width="3.75" fill="none" stroke-dasharray="9.4 9.07" stroke-linejoin="round"/>
<path d="M141.10,426.25 L141.11,426.25 L141.13,426.25 L141.16,426.25 L141.19,426.25 L141.22,426.25 L141.26,426.25 L141.30,426.25 L141.34,426.25 L141.39,426.25 L141.44,426.25 L141.49,426.25 L141.54,426.25 L141.60,426.25 L141.66,426.25 L141.72,426.25 L141.78,426.25 L141.85,426.25 L141.91,426.25 L141.98,426.25 L142.05,426.25 L142.13,426.25 L142.20,426.25 L142.28,426.25 L142.35,426.24 L142.43,426.24 L142.51,426.24 L142.60,426.24 L142.68,426.24 L142.76,426.24 L142.85,426.23 L142.94,426.23 L143.03,426.23 L143.12,426.23 L143.21,426.22 L143.31,426.22 L143.40,426.21 L143.50,426.21 L143.60,426.20 L143.70,426.20 L143.80,426.19 L143.90,426.19 L144.00,426.18 L144.11,426.17 L144.21,426.16 L144.32,426.15 L144.43,426.14 L144.53,426.13 L144.64,426.12 L144.76,426.11 L144.87,426.09 L144.98,426.08 L145.10,426.06 L145.21,426.05 L145.33,426.03 L145.45,426.01 L145.57,425.99 L145.69,425.97 L145.81,425.94 L145.93,425.92 L146.05,425.89 L146.18,425.86 L146.30,425.84 L146.43,425.80 L146.56,425.77 L146.69,425.74 L146.81,425.70 L146.95,425.66 L147.08,425.62 L147.21,425.58 L147.34,425.53 L147.48,425.49 L147.61,425.44 L147.75,425.39 L147.88,425.33 L148.02,425.27 L148.16,425.21 L148.30,425.15 L148.44,425.09 L148.58,425.02 L148.73,424.94 L148.87,424.87 L149.01,424.79 L149.16,424.71 L149.31,424.62 L149.45,424.54 L149.60,424.44 L149.75,424.35 L149.90,424.25 L150.05,424.14 L150.20,424.03 L150.35,423.92 L150.51,423.80 L150.66,423.68 L150.81,423.55 L150.97,423.42 L151.13,423.28 L151.28,423.14 L151.44,423.00 L151.60,422.84 L151.76,422.69 L151.92,422.52 L152.08,422.35 L152.24,422.18 L152.40,422.00 L152.57,421.81 L152.73,421.62 L152.90,421.42 L153.06,421.21 L153.23,421.00 L153.40,420.78 L153.56,420.55 L153.73,420.32 L153.90,420.08 L154.07,419.83 L154.24,419.57 L154.42,419.30 L154.59,419.03 L154.76,418.75 L154.94,418.46 L155.11,418.16 L155.29,417.85 L155.46,417.53 L155.64,417.21 L155.82,416.87 L156.00,416.53 L156.17,416.17 L156.35,415.81 L156.53,415.43 L156.72,415.05 L156.90,414.65 L157.08,414.25 L157.26,413.83 L157.45,413.40 L157.63,412.96 L157.82,412.51 L158.00,412.05 L158.19,411.57 L158.38,411.09 L158.57,410.59 L158.76,410.07 L158.94,409.55 L159.13,409.01 L159.33,408.46 L159.52,407.89 L159.71,407.31 L159.90,406.72 L160.10,406.12 L160.29,405.49 L160.48,404.86 L160.68,404.21 L160.88,403.54 L161.07,402.86 L161.27,402.16 L161.47,401.45 L161.67,400.72 L161.87,399.98 L162.07,399.22 L162.27,398.44 L162.47,397.64 L162.67,396.83 L162.87,396.00 L163.08,395.16 L163.28,394.29 L163.48,393.41 L163.69,392.51 L163.90,391.59 L164.10,390.65 L164.31,389.69 L164.52,388.72 L164.72,387.72 L164.93,386.70 L165.14,385.67 L165.35,384.61 L165.56,383.54 L165.77,382.44 L165.99,381.33 L166.20,380.19 L166.41,379.03 L166.62,377.85 L166.84,376.65 L167.05,375.43 L167.27,374.19 L167.48,372.92 L167.70,371.63 L167.92,370.33 L168.14,368.99 L168.35,367.64 L168.57,366.26 L168.79,364.87 L169.01,363.45 L169.23,362.00 L169.46,360.54 L169.68,359.05 L169.90,357.53 L170.12,356.00 L170.35,354.44 L170.57,352.86 L170.79,351.26 L171.02,349.63 L171.25,347.98 L171.47,346.31 L171.70,344.62 L171.93,342.90 L172.15,341.16 L172.38,339.40 L172.61,337.62 L172.84,335.81 L173.07,333.99 L173.30,332.14 L173.53,330.27 L173.77,328.37 L174.00,326.46 L174.23,324.53 L174.47,322.58 L174.70,320.60 L174.93,318.61 L175.17,316.59 L175.41,314.56 L175.64,312.51 L175.88,310.44 L176.12,308.36 L176.35,306.25 L176.59,304.13 L176.83,302.00 L177.07,299.84 L177.31,297.67 L177.55,295.49 L177.79,293.29 L178.03,291.08 L178.28,288.86 L178.52,286.62 L178.76,284.37 L179.01,282.11 L179.25,279.84 L179.50,277.56 L179.74,275.27 L179.99,272.98 L180.23,270.67 L180.48,268.36 L180.73,266.04 L180.98,263.71 L181.22,261.38 L181.47,259.05 L181.72,256.71 L181.97,254.37 L182.22,252.03 L182.47,249.69 L182.73,247.34 L182.98,245.00 L183.23,242.66 L183.48,240.32 L183.74,237.98 L183.99,235.64 L184.24,233.31 L184.50,230.99 L184.76,228.66 L185.01,226.35 L185.27,224.04 L185.53,221.74 L185.78,219.44" stroke="#ff0000" stroke-width="3.75" fill="none" stroke-linejoin="round"/>
<path d="M186.12,216.46 L186.12,216.45 L186.12,216.42 L186.13,216.35 L186.14,216.24 L186.16,216.10 L186.18,215.93 L186.20,215.71 L186.23,215.45 L186.27,215.16 L186.31,214.82 L186.35,214.43 L186.40,214.01 L186.45,213.53 L186.51,213.02 L186.58,212.45 L186.65,211.85 L186.72,211.19 L186.80,210.49 L186.89,209.75 L186.98,208.95 L187.08,208.11 L187.18,207.22 L187.29,206.29 L187.40,205.31 L187.53,204.28 L187.65,203.20 L187.79,202.08 L187.92,200.91 L188.07,199.70 L188.22,198.44 L188.38,197.13 L188.54,195.78 L188.71,194.38 L188.89,192.95 L189.07,191.47 L189.26,189.94 L189.45,188.38 L189.65,186.77 L189.86,185.13 L190.07,183.44 L190.30,181.72 L190.52,179.97 L190.76,178.17 L191.00,176.35 L191.25,174.49 L191.50,172.59 L191.76,170.67 L192.03,168.72 L192.30,166.75 L192.58,164.74 L192.87,162.72 L193.16,160.67 L193.47,158.60 L193.77,156.51 L194.09,154.40 L194.41,152.28 L194.74,150.14 L195.08,148.00 L195.42,145.84 L195.77,143.67 L196.13,141.50 L196.49,139.32 L196.87,137.14 L197.24,134.95 L197.63,132.77 L198.02,130.59 L198.42,128.41 L198.83,126.24 L199.25,124.07 L199.67,121.91 L200.10,119.77 L200.54,117.63 L200.98,115.51 L201.43,113.40 L201.89,111.31 L202.36,109.23 L202.83,107.17 L203.31,105.14 L203.80,103.12 L204.30,101.12 L204.80,99.15 L205.31,97.20 L205.83,95.27 L206.36,93.37 L206.89,91.49 L207.43,89.64 L207.98,87.82 L208.54,86.03 L209.10,84.26 L209.67,82.52 L210.25,80.81 L210.84,79.13 L211.43,77.48 L212.04,75.85 L212.65,74.26 L213.27,72.70 L213.89,71.16 L214.53,69.66 L215.17,68.18 L215.82,66.74 L216.47,65.32 L217.14,63.94 L217.81,62.58 L218.49,61.25 L219.18,59.95 L219.88,58.68 L220.58,57.44 L221.30,56.23 L222.02,55.04 L222.74,53.88 L223.48,52.75 L224.23,51.64 L224.98,50.56 L225.74,49.51 L226.51,48.48 L227.28,47.48 L228.07,46.50 L228.86,45.55 L229.66,44.62 L230.47,43.71 L231.29,42.83 L232.11,41.96 L232.95,41.12 L233.79,40.31 L234.64,39.51 L235.50,38.73 L236.36,37.98 L237.24,37.24 L238.12,36.52 L239.01,35.82 L239.91,35.14 L240.82,34.48 L241.73,33.84 L242.66,33.21 L243.59,32.60 L244.53,32.01 L245.48,31.43 L246.44,30.87 L247.40,30.32 L248.38,29.79 L249.36,29.27 L250.35,28.77 L251.35,28.28 L252.36,27.80 L253.38,27.34 L254.40,26.89 L255.43,26.45 L256.47,26.03 L257.52,25.61 L258.58,25.21 L259.65,24.82 L260.73,24.44 L261.81,24.07 L262.90,23.71 L264.00,23.36 L265.11,23.02 L266.23,22.69 L267.36,22.36 L268.49,22.05 L269.64,21.75 L270.79,21.45 L271.95,21.16 L273.12,20.89 L274.30,20.61 L275.49,20.35 L276.68,20.09 L277.89,19.84 L279.10,19.60 L280.32,19.36 L281.55,19.13 L282.79,18.91 L284.04,18.69 L285.30,18.48 L286.56,18.28 L287.84,18.08 L289.12,17.89 L290.41,17.70 L291.71,17.51 L293.02,17.33 L294.34,17.16 L295.67,16.99 L297.01,16.83 L298.35,16.67 L299.70,16.51 L301.07,16.36 L302.44,16.22 L303.82,16.07 L305.21,15.93 L306.61,15.80 L308.01,15.67 L309.43,15.54 L310.85,15.41 L312.29,15.29 L313.73,15.17 L315.18,15.06 L316.64,14.95 L318.11,14.84 L319.59,14.73 L321.08,14.63 L322.57,14.53 L324.08,14.43 L325.59,14.34 L327.12,14.25 L328.65,14.16 L330.19,14.07 L331.74,13.98 L333.30,13.90 L334.87,13.82 L336.45,13.74 L338.04,13.67 L339.63,13.59 L341.24,13.52 L342.85,13.45 L344.47,13.38 L346.11,13.31 L347.75,13.25 L349.40,13.18 L351.06,13.12 L352.73,13.06 L354.41,13.00 L356.09,12.94 L357.79,12.89 L359.50,12.83 L361.21,12.78 L362.94,12.73 L364.67,12.68 L366.41,12.63 L368.16,12.58 L369.93,12.54 L371.70,12.49 L373.48,12.45 L375.26,12.40 L377.06,12.36 L378.87,12.32 L380.69,12.28 L382.51,12.24 L384.35,12.20 L386.19,12.17 L388.05,12.13 L389.91,12.09 L391.78,12.06 L393.67,12.03 L395.56,11.99 L397.46,11.96 L399.37,11.93 L401.29,11.90 L403.22,11.87 L405.16,11.84 L407.10,11.81 L409.06,11.79 L411.03,11.76 L413.00,11.73 L414.99,11.71 L416.98,11.68 L418.99,11.66 L421.00,11.64 L423.02,11.61 L425.06,11.59 L427.10,11.57 L429.15,11.55 L431.21,11.52 L433.28,11.50 L435.36,11.48 L437.45,11.46 L439.55,11.45 L441.66,11.43 L443.78,11.41 L445.91,11.39 L448.04,11.37 L450.19,11.36 L452.35,11.34 L454.51,11.32 L456.69,11.31 L458.87,11.29 L461.07,11.28 L463.27,11.26 L465.49,11.25 L467.71,11.23 L469.94,11.22 L472.19,11.21 L474.44,11.19 L476.70,11.18 L478.97,11.17 L481.26,11.15 L483.55,11.14 L485.85,11.13 L488.16,11.12 L490.48,11.11 L492.81,11.10 L495.15,11.09 L497.50,11.08 L499.86,11.07 L502.22,11.06 L504.60,11.05 L506.99,11.04 L509.39,11.03 L511.80,11.02 L514.21,11.01 L516.64,11.00 L519.08,10.99 L521.52,10.98 L523.98,10.97 L526.45,10.97 L528.92,10.96 L531.41,10.95 L533.90,10.94 L536.41,10.94 L538.92,10.93 L541.45,10.92 L543.98,10.91 L546.53,10.91 L549.08,10.90 L551.65,10.89 L554.22,10.89 L556.80,10.88 L559.40,10.88 L562.00,10.87 L564.62,10.86 L567.24,10.86 L569.87,10.85 L572.52,10.85 L575.17,10.84 L577.83,10.84 L580.50,10.83 L583.19,10.83 L585.88,10.82 L588.58,10.82 L591.30,10.81 L594.02,10.81 L596.75,10.80 L599.49,10.80 L602.25,10.79 L605.01,10.79 L607.78,10.78 L610.56,10.78 L613.36,10.78 L616.16,10.77 L618.97,10.77 L621.79,10.76 L624.63,10.76 L627.47,10.76 L630.32,10.75 L633.18,10.75 L636.06,10.75 L638.94,10.74 L641.83,10.74 L644.73,10.74 L647.65,10.73 L650.57,10.73 L653.50,10.73 L656.44,10.72 L659.40,10.72 L662.36,10.72 L665.33,10.72 L668.32,10.71 L671.31,10.71 L674.31,10.71 L677.33,10.70 L680.35,10.70 L683.38,10.70 L686.43,10.70 L689.48,10.69 L692.55,10.69 L695.62,10.69 L698.70,10.69 L701.80,10.68 L704.90,10.68 L708.02,10.68 L711.14,10.68 L714.28,10.68 L717.43,10.67 L720.58,10.67 L723.75,10.67 L726.92,10.67 L730.11,10.67 L733.31,10.66 L736.51,10.66 L739.73,10.66 L742.96,10.66 L746.19,10.66 L749.44,10.66 L752.70,10.65 L755.97,10.65 L759.25,10.65 L762.53,10.65 L765.83,10.65 L769.14,10.65 L772.46,10.64 L775.79,10.64 L779.13,10.64 L782.48,10.64 L785.84,10.64 L789.21,10.64 L792.60,10.64 L795.99,10.63 L799.39,10.63 L802.80,10.63 L806.22,10.63 L809.66,10.63 L813.10,10.63" stroke="#ff0000" stroke-width="3.75" fill="none" stroke-linejoin="round"/>
<path d="M141.10,426.25 L141.18,426.25 L141.30,426.25 L141.46,426.25 L141.63,426.25 L141.83,426.25 L142.04,426.25 L142.26,426.25 L142.50,426.25 L142.75,426.25 L143.02,426.25 L143.29,426.25 L143.57,426.25 L143.87,426.25 L144.17,426.25 L144.48,426.25 L144.80,426.25 L145.13,426.25 L145.46,426.25 L145.80,426.25 L146.15,426.25 L146.51,426.25 L146.88,426.25 L147.25,426.24 L147.62,426.24 L148.01,426.24 L148.40,426.24 L148.79,426.24 L149.20,426.24 L149.60,426.24 L150.02,426.23 L150.44,426.23 L150.86,426.23 L151.29,426.23 L151.73,426.22 L152.17,426.22 L152.61,426.21 L153.06,426.21 L153.52,426.20 L153.98,426.20 L154.44,426.19 L154.91,426.19 L155.38,426.18 L155.86,426.17 L156.34,426.17 L156.83,426.16 L157.32,426.15 L157.82,426.14 L158.32,426.13 L158.82,426.12 L159.33,426.11 L159.84,426.09 L160.36,426.08 L160.88,426.07 L161.41,426.05 L161.93,426.04 L162.47,426.02 L163.00,426.00 L163.54,425.98 L164.09,425.96 L164.63,425.94 L165.18,425.92 L165.74,425.90 L166.30,425.87 L166.86,425.85 L167.42,425.82 L167.99,425.79 L168.57,425.76 L169.14,425.73 L169.72,425.70 L170.30,425.66 L170.89,425.63 L171.48,425.59 L172.07,425.55 L172.66,425.51 L173.26,425.47 L173.87,425.42 L174.47,425.37 L175.08,425.33 L175.69,425.28 L176.30,425.22 L176.92,425.17 L177.54,425.11 L178.17,425.05 L178.79,424.99 L179.42,424.92 L180.06,424.86 L180.69,424.79 L181.33,424.72 L181.97,424.64 L182.62,424.57 L183.26,424.49 L183.91,424.40 L184.57,424.32 L185.22,424.23 L185.88,424.14 L186.54,424.04 L187.21,423.94 L187.87,423.84 L188.54,423.74 L189.21,423.63 L189.89,423.52 L190.57,423.40 L191.25,423.28 L191.93,423.16 L192.62,423.03 L193.30,422.90 L194.00,422.77 L194.69,422.63 L195.38,422.48 L196.08,422.34 L196.78,422.18 L197.49,422.03 L198.19,421.87 L198.90,421.70 L199.61,421.53 L200.33,421.36 L201.04,421.18 L201.76,420.99 L202.48,420.81 L203.21,420.61 L203.93,420.41 L204.66,420.21 L205.39,419.99 L206.12,419.78 L206.86,419.56 L207.60,419.33 L208.34,419.09 L209.08,418.86 L209.82,418.61 L210.57,418.36 L211.32,418.10 L212.07,417.84 L212.83,417.56 L213.58,417.29 L214.34,417.00 L215.10,416.71 L215.86,416.41 L216.63,416.11 L217.40,415.80 L218.17,415.48 L218.94,415.15 L219.71,414.82 L220.49,414.48 L221.27,414.13 L222.05,413.77 L222.83,413.41 L223.61,413.03 L224.40,412.65 L225.19,412.26 L225.98,411.87 L226.77,411.46 L227.57,411.04 L228.37,410.62 L229.17,410.19 L229.97,409.75 L230.77,409.30 L231.58,408.84 L232.38,408.37 L233.19,407.89 L234.01,407.40 L234.82,406.90 L235.64,406.39 L236.45,405.88 L237.27,405.35 L238.10,404.81 L238.92,404.26 L239.75,403.70 L240.57,403.13 L241.40,402.55 L242.24,401.96 L243.07,401.36 L243.91,400.75 L244.74,400.12 L245.58,399.48 L246.43,398.84 L247.27,398.18 L248.11,397.51 L248.96,396.82 L249.81,396.13 L250.66,395.42 L251.52,394.70 L252.37,393.97 L253.23,393.23 L254.09,392.47 L254.95,391.70 L255.81,390.92 L256.67,390.13 L257.54,389.32 L258.41,388.50 L259.28,387.66 L260.15,386.82 L261.02,385.96 L261.90,385.08 L262.77,384.19 L263.65,383.29 L264.53,382.37 L265.42,381.44 L266.30,380.50 L267.19,379.54 L268.08,378.57 L268.97,377.58 L269.86,376.58 L270.75,375.57 L271.65,374.53 L272.54,373.49 L273.44,372.43 L274.34,371.35 L275.24,370.27 L276.15,369.16 L277.05,368.04 L277.96,366.91 L278.87,365.76 L279.78,364.59 L280.69,363.41 L281.61,362.22 L282.52,361.01 L283.44,359.78 L284.36,358.54 L285.28,357.29 L286.20,356.01 L287.13,354.73 L288.05,353.43 L288.98,352.11 L289.91,350.78 L290.84,349.43 L291.77,348.07 L292.71,346.69 L293.64,345.30 L294.58,343.89 L295.52,342.47 L296.46,341.03 L297.40,339.58 L298.34,338.11 L299.29,336.63 L300.24,335.14 L301.19,333.63 L302.14,332.10 L303.09,330.56 L304.04,329.01 L305.00,327.45 L305.95,325.87 L306.91,324.27 L307.87,322.67 L308.84,321.05 L309.80,319.41 L310.76,317.77 L311.73,316.11 L312.70,314.44 L313.67,312.76 L314.64,311.07 L315.61,309.36 L316.58,307.64 L317.56,305.91 L318.54,304.18 L319.52,302.43 L320.50,300.67 L321.48,298.90 L322.46,297.12 L323.45,295.33 L324.43,293.53 L325.42,291.73 L326.41,289.91 L327.40,288.09 L328.39,286.26 L329.39,284.42 L330.38,282.57 L331.38,280.72 L332.38,278.86 L333.38,277.00 L334.38,275.13 L335.38,273.26 L336.39,271.38 L337.39,269.49 L338.40,267.61 L339.41,265.71 L340.42,263.82 L341.43,261.92 L342.45,260.02 L343.46,258.12 L344.48,256.22 L345.49,254.31 L346.51,252.41 L347.53,250.50 L348.56,248.59 L349.58,246.69 L350.60,244.78 L351.63,242.88 L352.66,240.98 L353.69,239.08 L354.72,237.18 L355.75,235.28 L356.78,233.39 L357.82,231.50 L358.85,229.61 L359.89,227.73 L360.93,225.86 L361.97,223.98 L363.01,222.12 L364.06,220.26 L365.10,218.40" stroke="#ff0000" stroke-width="3.75" fill="none" stroke-dasharray="9.4 9.07" stroke-linejoin="round"/>
<path d="M365.10,218.40 L366.59,215.76 L368.09,213.14 L369.58,210.54 L371.07,207.96 L372.57,205.40 L374.06,202.87 L375.55,200.35 L377.05,197.86 L378.54,195.39 L380.03,192.94 L381.53,190.52 L383.02,188.12 L384.51,185.74 L386.01,183.39 L387.50,181.07 L388.99,178.77 L390.49,176.50 L391.98,174.26 L393.47,172.04 L394.97,169.84 L396.46,167.68 L397.95,165.54 L399.45,163.42 L400.94,161.34 L402.43,159.28 L403.93,157.25 L405.42,155.24 L406.91,153.26 L408.41,151.31 L409.90,149.39 L411.39,147.49 L412.89,145.61 L414.38,143.77 L415.87,141.95 L417.37,140.15 L418.86,138.38 L420.35,136.64 L421.85,134.92 L423.34,133.23 L424.83,131.56 L426.33,129.92 L427.82,128.30 L429.31,126.71 L430.81,125.14 L432.30,123.59 L433.79,122.07 L435.29,120.57 L436.78,119.09 L438.27,117.63 L439.77,116.20 L441.26,114.79 L442.75,113.40 L444.25,112.03 L445.74,110.69 L447.23,109.36 L448.73,108.06 L450.22,106.77 L451.71,105.51 L453.21,104.26 L454.70,103.04 L456.19,101.83 L457.69,100.64 L459.18,99.47 L460.67,98.32 L462.17,97.19 L463.66,96.07 L465.15,94.97 L466.65,93.89 L468.14,92.83 L469.63,91.78 L471.13,90.75 L472.62,89.73 L474.11,88.73 L475.61,87.75 L477.10,86.78 L478.59,85.83 L480.09,84.89 L481.58,83.96 L483.07,83.05 L484.57,82.16 L486.06,81.28 L487.55,80.41 L489.05,79.55 L490.54,78.71 L492.03,77.88 L493.53,77.06 L495.02,76.26 L496.51,75.47 L498.01,74.69 L499.50,73.92 L500.99,73.16 L502.49,72.42 L503.98,71.69 L505.47,70.96 L506.97,70.25 L508.46,69.55 L509.95,68.86 L511.45,68.18 L512.94,67.51 L514.43,66.85 L515.93,66.20 L517.42,65.56 L518.91,64.93 L520.41,64.30 L521.90,63.69 L523.39,63.09 L524.89,62.49 L526.38,61.90 L527.87,61.33 L529.37,60.76 L530.86,60.20 L532.35,59.64 L533.85,59.10 L535.34,58.56 L536.83,58.03 L538.33,57.51 L539.82,56.99 L541.31,56.48 L542.81,55.98 L544.30,55.49 L545.79,55.00 L547.29,54.52 L548.78,54.05 L550.27,53.59 L551.77,53.13 L553.26,52.67 L554.75,52.23 L556.25,51.78 L557.74,51.35 L559.23,50.92 L560.73,50.50 L562.22,50.08 L563.71,49.67 L565.21,49.26 L566.70,48.86 L568.19,48.47 L569.69,48.08 L571.18,47.69 L572.67,47.31 L574.17,46.94 L575.66,46.57 L577.15,46.21 L578.65,45.85 L580.14,45.49 L581.63,45.14 L583.13,44.80 L584.62,44.46 L586.11,44.12 L587.61,43.79 L589.10,43.46 L590.59,43.14 L592.09,42.82 L593.58,42.50 L595.07,42.19 L596.57,41.88 L598.06,41.58 L599.55,41.28 L601.05,40.98 L602.54,40.69 L604.03,40.40 L605.53,40.12 L607.02,39.84 L608.51,39.56 L610.01,39.29 L611.50,39.02 L612.99,38.75 L614.49,38.48 L615.98,38.22 L617.47,37.97 L618.97,37.71 L620.46,37.46 L621.95,37.21 L623.45,36.97 L624.94,36.72 L626.43,36.49 L627.93,36.25 L629.42,36.02 L630.91,35.78 L632.41,35.56 L633.90,35.33 L635.39,35.11 L636.89,34.89 L638.38,34.67 L639.87,34.46 L641.37,34.24 L642.86,34.03 L644.35,33.83 L645.85,33.62 L647.34,33.42 L648.83,33.22 L650.33,33.02 L651.82,32.83 L653.31,32.63 L654.81,32.44 L656.30,32.25 L657.79,32.07 L659.29,31.88 L660.78,31.70 L662.27,31.52 L663.77,31.34 L665.26,31.16 L666.75,30.99 L668.25,30.82 L669.74,30.65 L671.23,30.48 L672.73,30.31 L674.22,30.14 L675.71,29.98 L677.21,29.82 L678.70,29.66 L680.19,29.50 L681.69,29.35 L683.18,29.19 L684.67,29.04 L686.17,28.89 L687.66,28.74 L689.15,28.59 L690.65,28.44 L692.14,28.30 L693.63,28.16 L695.13,28.02 L696.62,27.88 L698.11,27.74 L699.61,27.60 L701.10,27.46 L702.59,27.33 L704.09,27.20 L705.58,27.07 L707.07,26.94 L708.57,26.81 L710.06,26.68 L711.55,26.55 L713.05,26.43 L714.54,26.31 L716.03,26.18 L717.53,26.06 L719.02,25.94 L720.51,25.82 L722.01,25.71 L723.50,25.59 L724.99,25.48 L726.49,25.36 L727.98,25.25 L729.47,25.14 L730.97,25.03 L732.46,24.92 L733.95,24.81 L735.45,24.70 L736.94,24.60 L738.43,24.49 L739.93,24.39 L741.42,24.29 L742.91,24.18 L744.41,24.08 L745.90,23.98 L747.39,23.88 L748.89,23.79 L750.38,23.69 L751.87,23.59 L753.37,23.50 L754.86,23.40 L756.35,23.31 L757.85,23.22 L759.34,23.13 L760.83,23.04 L762.33,22.95 L763.82,22.86 L765.31,22.77 L766.81,22.68 L768.30,22.60 L769.79,22.51 L771.29,22.43 L772.78,22.34 L774.27,22.26 L775.77,22.18 L777.26,22.10 L778.75,22.02 L780.25,21.94 L781.74,21.86 L783.23,21.78 L784.73,21.70 L786.22,21.62 L787.71,21.55 L789.21,21.47 L790.70,21.39 L792.19,21.32 L793.69,21.25 L795.18,21.17 L796.67,21.10 L798.17,21.03 L799.66,20.96 L801.15,20.89 L802.65,20.82 L804.14,20.75 L805.63,20.68 L807.13,20.61 L808.62,20.55 L810.11,20.48 L811.61,20.41 L813.10,20.35" stroke="#ff0000" stroke-width="3.75" fill="none" stroke-dasharray="9.4 9.07" stroke-linejoin="round"/>
<text transform="matrix(0.2331 0 0 0.2116 135.12 462.98)" font-size="100" stroke="#000" stroke-width="0.99" stroke-linejoin="round">0</text>
<text transform="matrix(0.2180 0 0 0.2149 359.54 462.98)" font-size="100" stroke="#000" stroke-width="1.02" stroke-linejoin="round">5</text>
<text transform="matrix(0.1699 0 0 0.2103 580.22 462.89)" font-size="100" stroke="#000" stroke-width="1.16" stroke-linejoin="round">1</text>
<text transform="matrix(0.2308 0 0 0.2116 588.63 462.98)" font-size="100" stroke="#000" stroke-width="1.00" stroke-linejoin="round">0</text>
<text transform="matrix(0.1699 0 0 0.2103 804.72 462.89)" font-size="100" stroke="#000" stroke-width="1.16" stroke-linejoin="round">1</text>
<text transform="matrix(0.2130 0 0 0.2149 812.47 462.98)" font-size="100" stroke="#000" stroke-width="1.03" stroke-linejoin="round">5</text>
<text transform="matrix(0.2331 0 0 0.2116 108.72 16.18)" font-size="100" stroke="#000" stroke-width="0.99" stroke-linejoin="round">0</text>
<rect x="94.00" y="110.95" width="11.00" height="1.50" fill="#000"/>
<rect x="108.90" y="110.90" width="10.10" height="1.40" fill="#000"/>
<text transform="matrix(0.1566 0 0 0.1476 109.06 105.02)" font-size="100" font-style="italic" stroke="#000" stroke-width="0.53" stroke-linejoin="round">π</text>
<text transform="matrix(0.1467 0 0 0.1446 109.45 130.86)" font-size="100" stroke="#000" stroke-width="0.55" stroke-linejoin="round">4</text>
<rect x="94.00" y="214.95" width="11.00" height="1.50" fill="#000"/>
<rect x="108.90" y="214.60" width="10.10" height="1.40" fill="#000"/>
<text transform="matrix(0.1566 0 0 0.1498 109.06 209.41)" font-size="100" font-style="italic" stroke="#000" stroke-width="0.52" stroke-linejoin="round">π</text>
<text transform="matrix(0.1651 0 0 0.1423 109.21 234.16)" font-size="100" stroke="#000" stroke-width="0.52" stroke-linejoin="round">2</text>
<rect x="83.90" y="320.15" width="10.70" height="1.50" fill="#000"/>
<rect x="99.10" y="320.20" width="19.90" height="1.40" fill="#000"/>
<text transform="matrix(0.1385 0 0 0.1462 98.78 314.72)" font-size="100" stroke="#000" stroke-width="0.56" stroke-linejoin="round">3</text>
<text transform="matrix(0.1566 0 0 0.1519 109.06 314.71)" font-size="100" font-style="italic" stroke="#000" stroke-width="0.52" stroke-linejoin="round">π</text>
<text transform="matrix(0.1489 0 0 0.1477 104.45 339.46)" font-size="100" stroke="#000" stroke-width="0.54" stroke-linejoin="round">4</text>
<rect x="97.30" y="425.10" width="10.50" height="1.60" fill="#000"/>
<text transform="matrix(0.2083 0 0 0.2005 108.89 431.50)" font-size="100" font-style="italic" stroke="#000" stroke-width="0.98" stroke-linejoin="round">π</text>
<line x1="533.0" y1="184.9" x2="622.0" y2="184.9" stroke="#00a800" stroke-width="3.75"/>
<line x1="533.0" y1="242.3" x2="622.0" y2="242.3" stroke="#0000ff" stroke-width="3.75"/>
<line x1="533.0" y1="298.6" x2="622.0" y2="298.6" stroke="#ff0000" stroke-width="3.75"/>
<line x1="533.0" y1="346.3" x2="622.0" y2="346.3" stroke="#000" stroke-width="3.75"/>
<line x1="533.0" y1="390.4" x2="622.0" y2="390.4" stroke="#000" stroke-width="3.9" stroke-dasharray="9.45 8.95"/>
<text transform="matrix(0.3729 0 0 0.3461 635.05 193.89)" font-size="100" font-style="italic" stroke="#000" stroke-width="0.33" stroke-linejoin="round">α</text>
<rect x="657.80" y="180.32" width="18.40" height="2.35" fill="#000"/><rect x="657.80" y="187.02" width="18.40" height="2.35" fill="#000"/>
<text transform="matrix(0.2713 0 0 0.3537 679.79 193.82)" font-size="100" stroke="#000" stroke-width="1.78" stroke-linejoin="round">1</text>
<text transform="matrix(0.3055 0 0 0.3368 697.91 193.14)" font-size="100" stroke="#000" stroke-width="1.71" stroke-linejoin="round">,</text>
<text transform="matrix(0.3897 0 0 0.3335 713.59 193.44)" font-size="100" font-style="italic" stroke="#000" stroke-width="0.33" stroke-linejoin="round">β</text>
<rect x="735.30" y="180.32" width="19.10" height="2.35" fill="#000"/><rect x="735.30" y="187.02" width="19.10" height="2.35" fill="#000"/>
<text transform="matrix(0.3716 0 0 0.3505 754.76 193.78)" font-size="100" stroke="#000" stroke-width="1.52" stroke-linejoin="round">0</text>
<text transform="matrix(0.3826 0 0 0.3482 634.82 251.48)" font-size="100" font-style="italic" stroke="#000" stroke-width="0.33" stroke-linejoin="round">α</text>
<rect x="657.50" y="237.92" width="18.40" height="2.35" fill="#000"/><rect x="657.50" y="244.32" width="18.40" height="2.35" fill="#000"/>
<rect x="682.80" y="237.90" width="16.90" height="1.90" fill="#000"/>
<text transform="matrix(0.2360 0 0 0.2389 683.40 234.24)" font-size="100" stroke="#000" stroke-width="1.05" stroke-linejoin="round">3</text>
<text transform="matrix(0.2582 0 0 0.2364 683.19 264.57)" font-size="100" stroke="#000" stroke-width="1.01" stroke-linejoin="round">2</text>
<text transform="matrix(0.3458 0 0 0.3056 702.26 251.02)" font-size="100" stroke="#000" stroke-width="1.69" stroke-linejoin="round">,</text>
<text transform="matrix(0.3936 0 0 0.3346 718.99 250.92)" font-size="100" font-style="italic" stroke="#000" stroke-width="0.33" stroke-linejoin="round">β</text>
<rect x="740.40" y="237.92" width="18.40" height="2.35" fill="#000"/><rect x="740.40" y="244.32" width="18.40" height="2.35" fill="#000"/>
<rect x="766.30" y="237.85" width="16.70" height="1.90" fill="#000"/>
<text transform="matrix(0.2031 0 0 0.2416 766.94 234.18)" font-size="100" stroke="#000" stroke-width="1.13" stroke-linejoin="round">1</text>
<text transform="matrix(0.2657 0 0 0.2364 766.06 264.57)" font-size="100" stroke="#000" stroke-width="1.00" stroke-linejoin="round">2</text>
<text transform="matrix(0.3826 0 0 0.3523 634.82 307.58)" font-size="100" font-style="italic" stroke="#000" stroke-width="0.33" stroke-linejoin="round">α</text>
<rect x="657.50" y="294.12" width="18.40" height="2.35" fill="#000"/><rect x="657.50" y="300.72" width="18.40" height="2.35" fill="#000"/>
<text transform="matrix(0.3804 0 0 0.3527 677.60 307.33)" font-size="100" stroke="#000" stroke-width="1.50" stroke-linejoin="round">2</text>
<text transform="matrix(0.3055 0 0 0.3095 698.01 306.66)" font-size="100" stroke="#000" stroke-width="1.79" stroke-linejoin="round">,</text>
<text transform="matrix(0.3975 0 0 0.3280 713.50 307.16)" font-size="100" font-style="italic" stroke="#000" stroke-width="0.33" stroke-linejoin="round">β</text>
<rect x="735.40" y="294.12" width="18.40" height="2.35" fill="#000"/><rect x="735.40" y="300.72" width="18.40" height="2.35" fill="#000"/>
<text transform="matrix(0.2684 0 0 0.3522 757.92 307.53)" font-size="100" stroke="#000" stroke-width="1.79" stroke-linejoin="round">1</text>
<text transform="matrix(0.3237 0 0 0.3432 636.48 355.09)" font-size="100" stroke="#000" stroke-width="1.65" stroke-linejoin="round">b</text>
<rect x="654.60" y="341.82" width="18.40" height="2.35" fill="#000"/><rect x="654.60" y="348.22" width="18.40" height="2.35" fill="#000"/>
<text transform="matrix(0.2769 0 0 0.3522 676.34 355.03)" font-size="100" stroke="#000" stroke-width="1.76" stroke-linejoin="round">1</text>
<text transform="matrix(0.3237 0 0 0.3390 636.48 398.69)" font-size="100" stroke="#000" stroke-width="1.66" stroke-linejoin="round">b</text>
<rect x="654.60" y="386.52" width="18.40" height="2.35" fill="#000"/><rect x="654.60" y="392.82" width="18.40" height="2.35" fill="#000"/>
<text transform="matrix(0.3463 0 0 0.3514 674.26 398.68)" font-size="100" stroke="#000" stroke-width="1.58" stroke-linejoin="round">5</text>
<text transform="translate(476.3,537.7) skewX(-2.5)" font-size="70" font-style="italic" text-anchor="middle">r</text>
<circle cx="487.3" cy="509.3" r="3.6" fill="#000"/>
<g transform="translate(25.65,221.1)"><path fill="#000" fill-rule="evenodd" d="M23.95,5.99 L23.90,7.36 L23.75,8.44 L23.50,9.40 L23.16,10.26 L22.72,11.06 L22.18,11.78 L21.54,12.43 L20.82,13.01 L20.00,13.52 L19.09,13.97 L18.09,14.35 L17.01,14.66 L15.85,14.90 L14.60,15.07 L13.28,15.18 L11.87,15.20 L10.38,15.16 L8.82,15.04 L7.16,14.85 L5.40,14.58 L3.50,14.21 L1.38,13.74 L-1.38,13.05 L-3.50,12.46 L-5.40,11.88 L-7.16,11.27 L-8.82,10.64 L-10.38,9.97 L-11.87,9.27 L-13.28,8.54 L-14.60,7.77 L-15.85,6.98 L-17.01,6.15 L-18.09,5.30 L-19.09,4.43 L-20.00,3.53 L-20.82,2.60 L-21.54,1.66 L-22.18,0.69 L-22.72,-0.30 L-23.16,-1.31 L-23.50,-2.36 L-23.75,-3.44 L-23.90,-4.59 L-23.95,-5.99 L-23.90,-7.36 L-23.75,-8.44 L-23.50,-9.40 L-23.16,-10.26 L-22.72,-11.06 L-22.18,-11.78 L-21.54,-12.43 L-20.82,-13.01 L-20.00,-13.52 L-19.09,-13.97 L-18.09,-14.35 L-17.01,-14.66 L-15.85,-14.90 L-14.60,-15.07 L-13.28,-15.18 L-11.87,-15.20 L-10.38,-15.16 L-8.82,-15.04 L-7.16,-14.85 L-5.40,-14.58 L-3.50,-14.21 L-1.38,-13.74 L1.38,-13.05 L3.50,-12.46 L5.40,-11.88 L7.16,-11.27 L8.82,-10.64 L10.38,-9.97 L11.87,-9.27 L13.28,-8.54 L14.60,-7.77 L15.85,-6.98 L17.01,-6.15 L18.09,-5.30 L19.09,-4.43 L20.00,-3.53 L20.82,-2.60 L21.54,-1.66 L22.18,-0.69 L22.72,0.30 L23.16,1.31 L23.50,2.36 L23.75,3.44 L23.90,4.59Z M22.70,6.13 L22.66,7.08 L22.52,7.75 L22.30,8.33 L21.99,8.83 L21.60,9.26 L21.12,9.65 L20.55,9.97 L19.90,10.25 L19.16,10.47 L18.34,10.64 L17.44,10.76 L16.46,10.83 L15.40,10.85 L14.26,10.82 L13.04,10.74 L11.74,10.61 L10.35,10.42 L8.87,10.18 L7.29,9.88 L5.59,9.51 L3.73,9.07 L1.55,8.51 L-1.55,7.68 L-3.73,7.06 L-5.59,6.49 L-7.29,5.94 L-8.87,5.39 L-10.35,4.83 L-11.74,4.27 L-13.04,3.70 L-14.26,3.12 L-15.40,2.54 L-16.46,1.94 L-17.44,1.34 L-18.34,0.74 L-19.16,0.12 L-19.90,-0.50 L-20.55,-1.12 L-21.12,-1.76 L-21.60,-2.40 L-21.99,-3.05 L-22.30,-3.72 L-22.52,-4.41 L-22.66,-5.15 L-22.70,-6.13 L-22.66,-7.08 L-22.52,-7.75 L-22.30,-8.33 L-21.99,-8.83 L-21.60,-9.26 L-21.12,-9.65 L-20.55,-9.97 L-19.90,-10.25 L-19.16,-10.47 L-18.34,-10.64 L-17.44,-10.76 L-16.46,-10.83 L-15.40,-10.85 L-14.26,-10.82 L-13.04,-10.74 L-11.74,-10.61 L-10.35,-10.42 L-8.87,-10.18 L-7.29,-9.88 L-5.59,-9.51 L-3.73,-9.07 L-1.55,-8.51 L1.55,-7.68 L3.73,-7.06 L5.59,-6.49 L7.29,-5.94 L8.87,-5.39 L10.35,-4.83 L11.74,-4.27 L13.04,-3.70 L14.26,-3.12 L15.40,-2.54 L16.46,-1.94 L17.44,-1.34 L18.34,-0.74 L19.16,-0.12 L19.90,0.50 L20.55,1.12 L21.12,1.76 L21.60,2.40 L21.99,3.05 L22.30,3.72 L22.52,4.41 L22.66,5.15Z"/><polygon points="-0.65,-8.6 1.95,-8.0 1.95,8.8 -0.65,8.2" fill="#000"/></g>
</svg>
</body></html>
